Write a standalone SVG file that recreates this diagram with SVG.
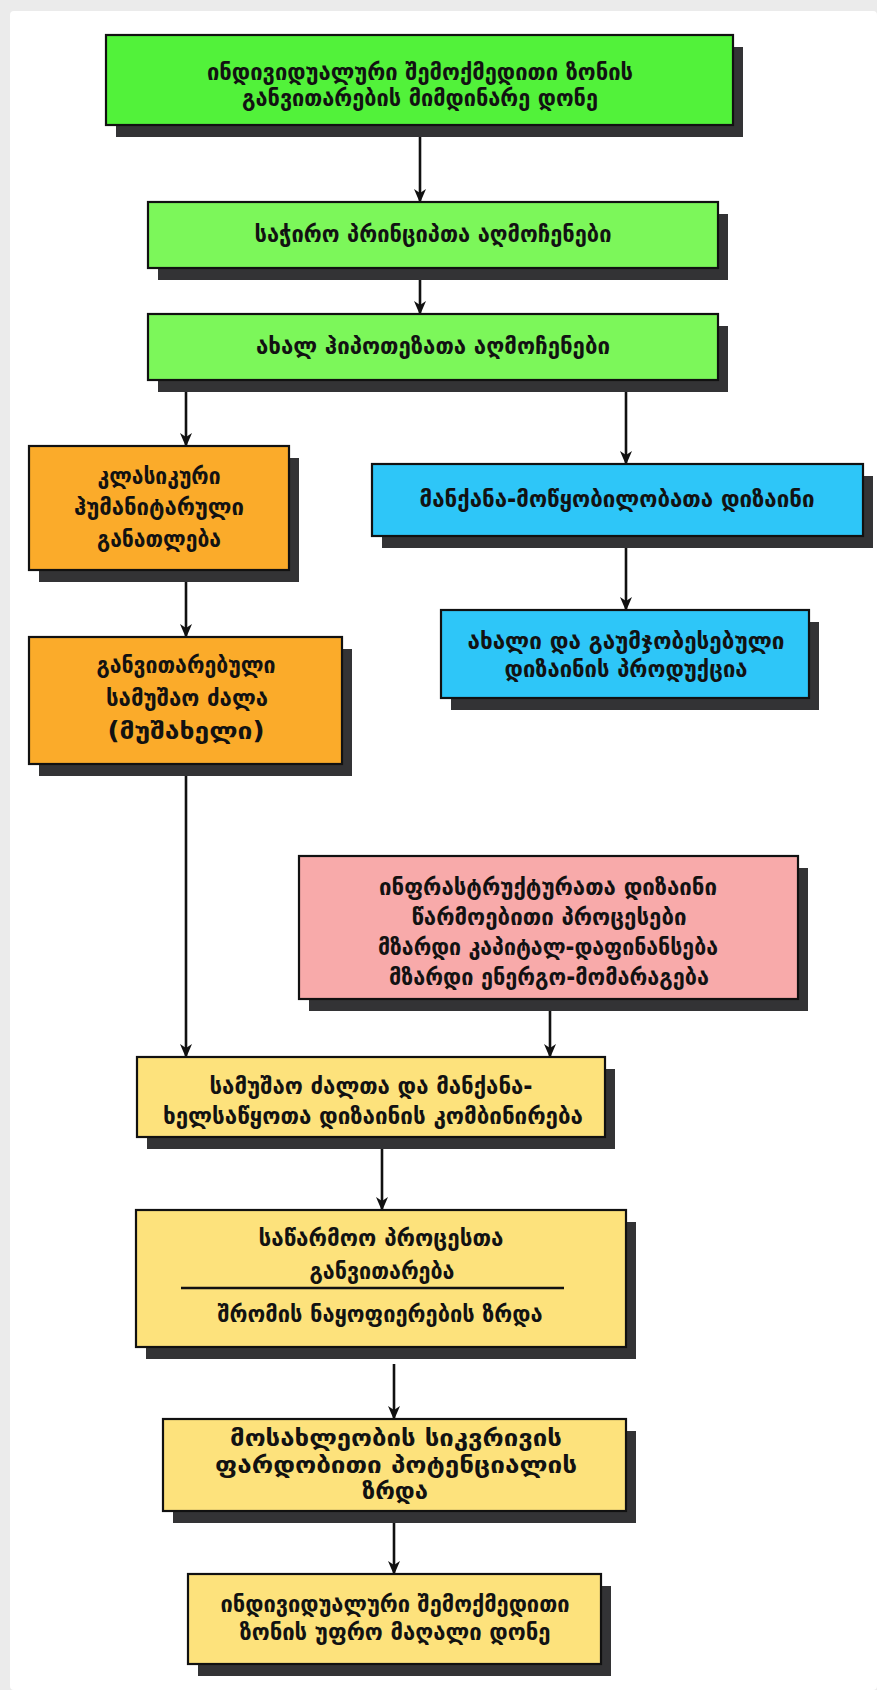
<svg xmlns="http://www.w3.org/2000/svg" width="877" height="1690" viewBox="0 0 877 1690">
<defs>
<marker id="ah" viewBox="0 0 14 12" refX="13" refY="6" markerWidth="14" markerHeight="12" markerUnits="userSpaceOnUse" orient="auto">
<path d="M0,0 L14,6 L0,12 L4,6 z" fill="#111"/>
</marker>
</defs>
<style>
.sh{fill:#333335}
.bx{stroke:#111;stroke-width:2.2}
.g1{fill:#52f23a}
.g2{fill:#7cf75a}
.or{fill:#fbab2a}
.bl{fill:#2ec6f8}
.pk{fill:#f8aaaa}
.ye{fill:#fde27c}
.t{font-family:"DejaVu Sans","Noto Sans Georgian",sans-serif;font-weight:bold;font-size:24px;fill:#121212;text-anchor:middle}
.c{stroke:#111;stroke-width:2.6;fill:none}
</style>
<rect x="0" y="0" width="877" height="1690" fill="#ebebeb"/>
<rect x="10" y="11" width="867" height="1679" rx="4" fill="#ffffff"/>

<g id="connectors">
<line class="c" x1="420" y1="126" x2="420" y2="202" marker-end="url(#ah)"/>
<line class="c" x1="420" y1="269" x2="420" y2="314" marker-end="url(#ah)"/>
<line class="c" x1="186" y1="381" x2="186" y2="446" marker-end="url(#ah)"/>
<line class="c" x1="626" y1="381" x2="626" y2="464" marker-end="url(#ah)"/>
<line class="c" x1="186" y1="571" x2="186" y2="637" marker-end="url(#ah)"/>
<line class="c" x1="626" y1="537" x2="626" y2="610" marker-end="url(#ah)"/>
<line class="c" x1="186" y1="765" x2="186" y2="1057" marker-end="url(#ah)"/>
<line class="c" x1="550" y1="1000" x2="550" y2="1057" marker-end="url(#ah)"/>
<line class="c" x1="382" y1="1138" x2="382" y2="1210" marker-end="url(#ah)"/>
<line class="c" x1="394" y1="1364" x2="394" y2="1419" marker-end="url(#ah)"/>
<line class="c" x1="394" y1="1512" x2="394" y2="1574" marker-end="url(#ah)"/>
</g>

<g id="n1">
<rect class="sh" x="116" y="47" width="627" height="90"/>
<rect class="bx g1" x="106" y="35" width="627" height="90"/>
<text class="t" x="420" y="80" textLength="426" lengthAdjust="spacingAndGlyphs">ინდივიდუალური შემოქმედითი ზონის</text>
<text class="t" x="420" y="106" textLength="356" lengthAdjust="spacingAndGlyphs">განვითარების მიმდინარე დონე</text>
</g>

<g id="n2">
<rect class="sh" x="158" y="214" width="570" height="66"/>
<rect class="bx g2" x="148" y="202" width="570" height="66"/>
<text class="t" x="433" y="242" textLength="357" lengthAdjust="spacingAndGlyphs">საჭირო პრინციპთა აღმოჩენები</text>
</g>

<g id="n3">
<rect class="sh" x="158" y="326" width="570" height="66"/>
<rect class="bx g2" x="148" y="314" width="570" height="66"/>
<text class="t" x="433" y="354" textLength="354" lengthAdjust="spacingAndGlyphs">ახალ ჰიპოთეზათა აღმოჩენები</text>
</g>

<g id="n4">
<rect class="sh" x="39" y="458" width="260" height="124"/>
<rect class="bx or" x="29" y="446" width="260" height="124"/>
<text class="t" x="159" y="484" textLength="123" lengthAdjust="spacingAndGlyphs">კლასიკური</text>
<text class="t" x="159" y="515" textLength="170" lengthAdjust="spacingAndGlyphs">ჰუმანიტარული</text>
<text class="t" x="159" y="547" textLength="124" lengthAdjust="spacingAndGlyphs">განათლება</text>
</g>

<g id="n5">
<rect class="sh" x="382" y="476" width="491" height="72"/>
<rect class="bx bl" x="372" y="464" width="491" height="72"/>
<text class="t" x="617" y="507" textLength="395" lengthAdjust="spacingAndGlyphs">მანქანა-მოწყობილობათა დიზაინი</text>
</g>

<g id="n6">
<rect class="sh" x="39" y="649" width="313" height="127"/>
<rect class="bx or" x="29" y="637" width="313" height="127"/>
<text class="t" x="186" y="673" textLength="179" lengthAdjust="spacingAndGlyphs">განვითარებული</text>
<text class="t" x="187" y="706" textLength="162" lengthAdjust="spacingAndGlyphs">სამუშაო ძალა</text>
<text class="t" x="186" y="739" textLength="157" lengthAdjust="spacingAndGlyphs">(მუშახელი)</text>
</g>

<g id="n7">
<rect class="sh" x="451" y="622" width="368" height="88"/>
<rect class="bx bl" x="441" y="610" width="368" height="88"/>
<text class="t" x="626" y="649" textLength="317" lengthAdjust="spacingAndGlyphs">ახალი და გაუმჯობესებული</text>
<text class="t" x="626" y="677" textLength="243" lengthAdjust="spacingAndGlyphs">დიზაინის პროდუქცია</text>
</g>

<g id="n8">
<rect class="sh" x="309" y="868" width="499" height="143"/>
<rect class="bx pk" x="299" y="856" width="499" height="143"/>
<text class="t" x="548" y="895" textLength="338" lengthAdjust="spacingAndGlyphs">ინფრასტრუქტურათა დიზაინი</text>
<text class="t" x="549" y="925" textLength="275" lengthAdjust="spacingAndGlyphs">წარმოებითი პროცესები</text>
<text class="t" x="548" y="955" textLength="340" lengthAdjust="spacingAndGlyphs">მზარდი კაპიტალ-დაფინანსება</text>
<text class="t" x="549" y="985" textLength="320" lengthAdjust="spacingAndGlyphs">მზარდი ენერგო-მომარაგება</text>
</g>

<g id="n9">
<rect class="sh" x="147" y="1069" width="468" height="80"/>
<rect class="bx ye" x="137" y="1057" width="468" height="80"/>
<text class="t" x="371" y="1094" textLength="323" lengthAdjust="spacingAndGlyphs">სამუშაო ძალთა და მანქანა-</text>
<text class="t" x="373" y="1124" textLength="420" lengthAdjust="spacingAndGlyphs">ხელსაწყოთა დიზაინის კომბინირება</text>
</g>

<g id="n10">
<rect class="sh" x="146" y="1222" width="490" height="137"/>
<rect class="bx ye" x="136" y="1210" width="490" height="137"/>
<text class="t" x="381" y="1246" textLength="245" lengthAdjust="spacingAndGlyphs">საწარმოო პროცესთა</text>
<text class="t" x="382" y="1279" textLength="145" lengthAdjust="spacingAndGlyphs">განვითარება</text>
<line x1="181" y1="1288" x2="564" y2="1288" stroke="#111" stroke-width="2.4"/>
<text class="t" x="380" y="1322" textLength="325" lengthAdjust="spacingAndGlyphs">შრომის ნაყოფიერების ზრდა</text>
</g>

<g id="n11">
<rect class="sh" x="173" y="1431" width="463" height="92"/>
<rect class="bx ye" x="163" y="1419" width="463" height="92"/>
<text class="t" x="396" y="1446" textLength="332" lengthAdjust="spacingAndGlyphs">მოსახლეობის სიკვრივის</text>
<text class="t" x="396" y="1473" textLength="362" lengthAdjust="spacingAndGlyphs">ფარდობითი პოტენციალის</text>
<text class="t" x="395" y="1499" textLength="66" lengthAdjust="spacingAndGlyphs">ზრდა</text>
</g>

<g id="n12">
<rect class="sh" x="198" y="1586" width="413" height="90"/>
<rect class="bx ye" x="188" y="1574" width="413" height="90"/>
<text class="t" x="395" y="1612" textLength="349" lengthAdjust="spacingAndGlyphs">ინდივიდუალური შემოქმედითი</text>
<text class="t" x="395" y="1640" textLength="311" lengthAdjust="spacingAndGlyphs">ზონის უფრო მაღალი დონე</text>
</g>
</svg>
